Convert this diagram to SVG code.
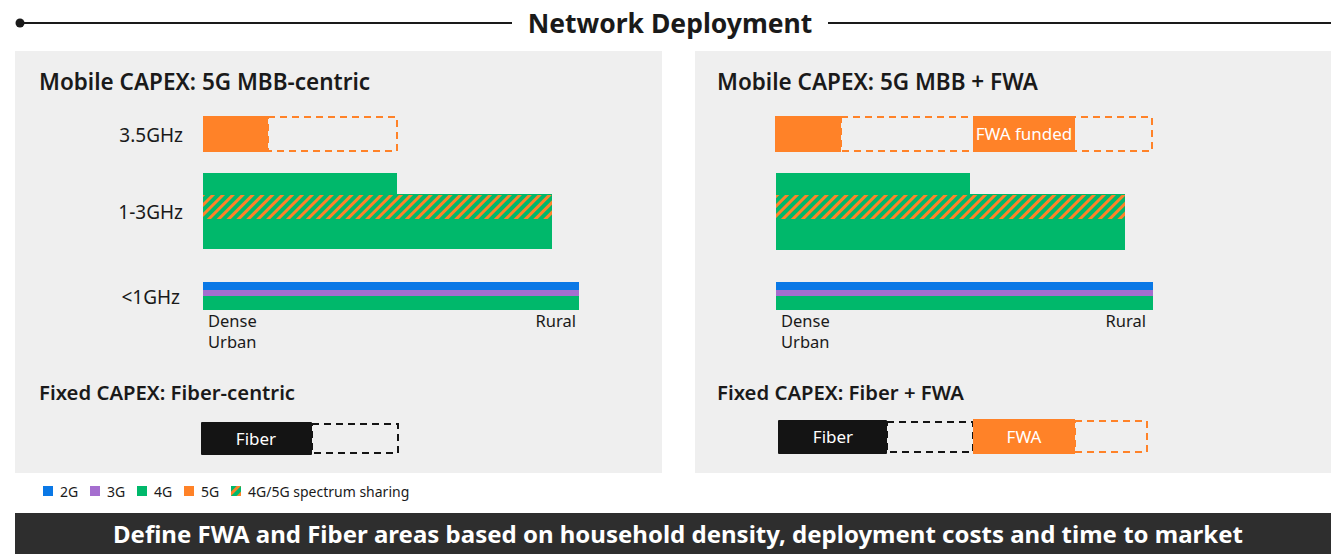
<svg xmlns="http://www.w3.org/2000/svg" width="1331" height="554" viewBox="0 0 1331 554">
  <defs>
    <pattern id="share" patternUnits="userSpaceOnUse" width="7" height="7" patternTransform="rotate(45)">
      <rect width="7" height="7" fill="#00b86b"/>
      <rect width="3" height="7" fill="#ff8228"/>
    </pattern>
    <style>
      text { font-family: "Noto Sans", "Liberation Sans", sans-serif; fill: #1a1a1a; }
      .title { font-size: 26.5px; font-weight: 700; }
      .head { font-size: 22.5px; font-weight: 600; }
      .sub { font-size: 20.3px; font-weight: 600; }
      .lbl { font-size: 19px; }
      .axis { font-size: 16.5px; }
      .bar-txt { font-size: 17px; fill: #ffffff; }
      .leg { font-size: 14px; }
      .banner { font-size: 24px; font-weight: 700; fill: #ffffff; }
      .panel { fill: #efefef; }
      .orange { fill: #ff8228; }
      .green { fill: #00b86b; }
      .blue { fill: #0a78e6; }
      .purple { fill: #a56ecf; }
      .black { fill: #141414; }
      .dash-o { fill: none; stroke: #ff8228; stroke-width: 2; stroke-dasharray: 7 5; }
      .dash-k { fill: none; stroke: #141414; stroke-width: 2; stroke-dasharray: 7 5; }
      .rule { stroke: #1a1a1a; stroke-width: 2; }
    </style>
  </defs>

  <rect width="1331" height="554" fill="#ffffff"/>

  <!-- header -->
  <g id="header">
    <circle cx="20" cy="23" r="4.5" fill="#1a1a1a"/>
    <line class="rule" x1="20" y1="23" x2="512" y2="23"/>
    <line class="rule" x1="828" y1="23" x2="1331" y2="23"/>
    <text class="title" x="670" y="33" text-anchor="middle">Network Deployment</text>
  </g>

  <!-- left panel: 5G MBB-centric -->
  <g id="panel-left">
    <rect class="panel" x="15" y="51" width="647" height="422"/>
    <text class="head" x="39" y="90">Mobile CAPEX: 5G MBB-centric</text>

    <text class="lbl" x="183" y="142" text-anchor="end">3.5GHz</text>
    <rect class="orange" x="203" y="116" width="65" height="36"/>
    <rect class="dash-o" x="268" y="117" width="129" height="34"/>

    <text class="lbl" x="183" y="219" text-anchor="end">1-3GHz</text>
    <rect class="green" x="203" y="173" width="194" height="22"/>
    <rect class="green" x="203" y="194" width="349" height="55"/>
    <rect fill="url(#share)" x="203" y="195" width="349" height="24"/>

    <text class="lbl" x="180" y="304" text-anchor="end">&lt;1GHz</text>
    <rect class="blue" x="203" y="282" width="376" height="8"/>
    <rect class="purple" x="203" y="290" width="376" height="6"/>
    <rect class="green" x="203" y="296" width="376" height="14"/>

    <text class="axis" x="208" y="327">Dense</text>
    <text class="axis" x="208" y="348">Urban</text>
    <text class="axis" x="576" y="327" text-anchor="end">Rural</text>

    <text class="sub" x="39" y="400">Fixed CAPEX: Fiber-centric</text>
    <rect class="dash-k" x="312" y="424" width="86" height="29"/>
    <rect class="black" x="201" y="422" width="111" height="33" rx="1"/>
    <text class="bar-txt" x="256" y="445" text-anchor="middle">Fiber</text>
  </g>

  <!-- right panel: 5G MBB + FWA -->
  <g id="panel-right">
    <rect class="panel" x="695" y="51" width="636" height="422"/>
    <text class="head" x="717" y="90">Mobile CAPEX: 5G MBB + FWA</text>

    <rect class="dash-o" x="841" y="117" width="311" height="34"/>
    <rect class="orange" x="775" y="116" width="66" height="36"/>
    <rect class="orange" x="973" y="116" width="102" height="36"/>
    <text class="bar-txt" x="1024" y="140" text-anchor="middle">FWA funded</text>

    <rect class="green" x="776" y="173" width="194" height="22"/>
    <rect class="green" x="776" y="194" width="349" height="56"/>
    <rect fill="url(#share)" x="776" y="195" width="349" height="24"/>

    <rect class="blue" x="776" y="282" width="377" height="8"/>
    <rect class="purple" x="776" y="290" width="377" height="6"/>
    <rect class="green" x="776" y="296" width="377" height="14"/>

    <text class="axis" x="781" y="327">Dense</text>
    <text class="axis" x="781" y="348">Urban</text>
    <text class="axis" x="1146" y="327" text-anchor="end">Rural</text>

    <text class="sub" x="717" y="400">Fixed CAPEX: Fiber + FWA</text>
    <rect class="dash-k" x="887" y="422" width="86" height="30"/>
    <rect class="dash-o" x="1075" y="421" width="72" height="31"/>
    <rect class="black" x="778" y="420" width="109" height="34" rx="1"/>
    <text class="bar-txt" x="833" y="443" text-anchor="middle">Fiber</text>
    <rect class="orange" x="973" y="419" width="102" height="35"/>
    <text class="bar-txt" x="1024" y="443" text-anchor="middle">FWA</text>
  </g>

  <!-- legend -->
  <g id="legend">
    <rect class="blue" x="43" y="486" width="10" height="10"/>
    <text class="leg" x="60" y="497">2G</text>
    <rect class="purple" x="90" y="486" width="10" height="10"/>
    <text class="leg" x="107" y="497">3G</text>
    <rect class="green" x="137" y="486" width="10" height="10"/>
    <text class="leg" x="154" y="497">4G</text>
    <rect class="orange" x="184" y="486" width="10" height="10"/>
    <text class="leg" x="201" y="497">5G</text>
    <rect fill="url(#share)" x="231" y="486" width="10" height="10"/>
    <text class="leg" x="248" y="497">4G/5G spectrum sharing</text>
  </g>

  <!-- conclusion banner -->
  <g id="banner">
    <rect x="15" y="513" width="1316" height="41" fill="#2e2e2e"/>
    <text class="banner" x="678" y="543" text-anchor="middle">Define FWA and Fiber areas based on household density, deployment costs and time to market</text>
  </g>
</svg>
